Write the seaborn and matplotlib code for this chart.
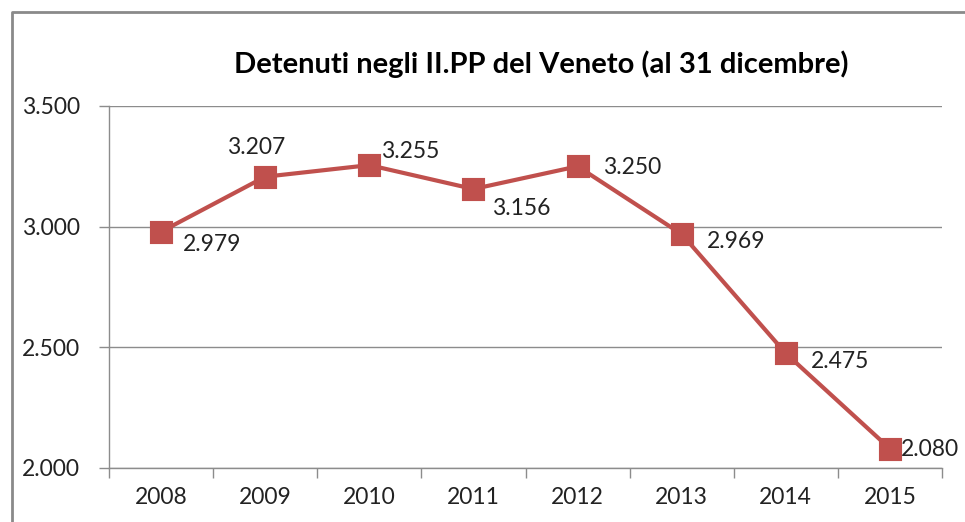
import matplotlib
matplotlib.use("Agg")
import matplotlib.pyplot as plt
import seaborn as sns
import pandas as pd
from matplotlib.lines import Line2D
from matplotlib.ticker import FixedLocator, FuncFormatter

# data
anni = ['2008', '2009', '2010', '2011', '2012', '2013', '2014', '2015']
detenuti = [2979, 3207, 3255, 3156, 3250, 2969, 2475, 2080]
# label offsets (pixels) relative to each marker
label_offsets = [(22, -13), (-38, 29), (12, 14), (19, -19),
                 (25, -1), (25, -7), (25, -8), (11, -1)]

sns.set_style("white")
plt.rcParams['font.family'] = ['Lato', 'DejaVu Sans']

red = '#C0504D'
grey = '#8c8c8c'
txt = '#222222'
fs = 16.5

df = pd.DataFrame({'anno': anni, 'detenuti': detenuti})

fig = plt.figure(figsize=(9.65, 5.22), dpi=100)
ax = fig.add_axes([109 / 965, 54 / 522, 833 / 965, 362 / 522])

sns.pointplot(data=df, x='anno', y='detenuti', color=red, marker='s',
              markersize=14, linewidth=3.0, ax=ax)

ax.set_xlim(-0.5, 7.5)
ax.set_ylim(2000, 3500)
ax.set_yticks([2000, 2500, 3000, 3500])
ax.yaxis.set_major_formatter(FuncFormatter(lambda v, p: f"{int(v):,}".replace(',', '.')))
ax.grid(axis='y', color=grey, linewidth=1.0)
ax.set_axisbelow(True)
ax.set_xlabel('')
ax.set_ylabel('')

for s in ['top', 'right']:
    ax.spines[s].set_visible(False)
for s in ['left', 'bottom']:
    ax.spines[s].set_visible(True)
    ax.spines[s].set_color(grey)
    ax.spines[s].set_linewidth(1.0)

ax.tick_params(axis='y', length=7, width=1, color=grey, labelsize=fs,
               labelcolor=txt, pad=14, left=True)
ax.tick_params(axis='x', which='major', length=0, labelsize=fs,
               labelcolor=txt, pad=14)
ax.xaxis.set_minor_locator(FixedLocator([i + 0.5 for i in range(-1, 8)]))
ax.tick_params(axis='x', which='minor', length=7, width=1, color=grey, bottom=True)

for i, (v, off) in enumerate(zip(detenuti, label_offsets)):
    ax.annotate(f"{v:,}".replace(',', '.'), (i, v), xytext=off,
                textcoords='offset pixels', ha='left', va='center',
                fontsize=fs, color=txt, annotation_clip=False)

fig.text(541 / 965, 1 - 64 / 522, 'Detenuti negli II.PP del Veneto (al 31 dicembre)',
         ha='center', va='center', fontsize=21, fontweight='bold', color='black')

# outer chart border (only left and top visible)
bx, by = 12 / 965, 1 - 12 / 522
fig.add_artist(Line2D([bx, bx, 1.0], [0.0, by, by], transform=fig.transFigure,
                      color='#8a8a8a', linewidth=2))

fig.savefig('out.png', dpi=100)
